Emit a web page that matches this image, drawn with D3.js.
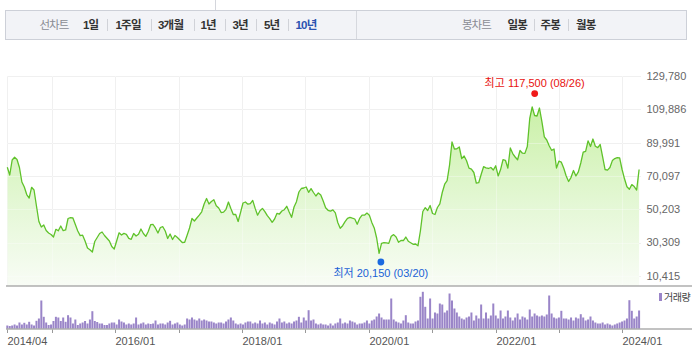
<!DOCTYPE html>
<html><head><meta charset="utf-8">
<script src="https://cdn.jsdelivr.net/npm/d3@7"></script>
<style>
html,body{margin:0;padding:0;background:#fff;}
svg{display:block;font-family:"Liberation Sans",Arial,"Noto Sans CJK KR",sans-serif;}
</style></head><body>
<svg id="chart" width="692" height="355"></svg>
<script>
// ---- data (biweekly closes, won) ----
const priceValues = [
75230,70630,79590,81210,79890,75110,66450,63460,58980,56890,
63290,61670,52110,42850,39570,40760,37480,35980,35090,33590,
38190,37300,40170,37360,37780,44650,45120,44950,41060,37180,
34430,34670,31210,27020,26010,24630,30910,33300,35690,36580,
34490,32820,31210,27920,26430,31210,36100,34790,35750,35210,
32760,32220,35690,34190,35210,38370,35690,33950,36880,40940,
41060,38850,35980,39270,39750,37180,32700,35390,32100,34490,
33300,31800,30310,30430,34670,38970,44650,43150,44950,46620,
48650,53310,56590,53310,54800,55880,52290,50920,48230,48410,
50140,54500,50620,47040,47040,42850,48350,53910,54500,53190,
53550,55460,50680,46620,49250,50680,48770,46320,44530,42380,
44350,47750,47330,49130,49900,51930,48530,45360,51520,54680,
60480,62570,62870,63460,60300,62510,60180,58090,59940,58690,
55100,51040,49550,49010,49780,47990,42260,38790,40350,42790,
44770,45360,44830,44350,41240,44710,46680,46620,47870,46560,
42320,39030,33000,23860,29830,30250,30070,29770,34010,35030,
33650,30430,31560,31500,33590,31090,30190,29230,29410,28340,
37180,48830,51100,49430,52410,47630,47040,51220,53430,60180,
65140,67290,76610,90350,86170,86290,87360,80490,81980,79180,
74760,74160,72130,65850,66030,70930,75590,74930,74520,75110,
73620,76130,70100,73860,79830,79420,74700,86760,83420,81390,
79770,85270,83660,83540,87660,104390,111260,106180,105880,110660,
102590,93450,91540,88080,85390,86170,74820,78880,78280,74640,
70040,66750,69260,73320,70040,72490,77800,84250,84790,91060,
87660,92140,87840,87000,88850,81390,73920,73560,75110,79240,
80430,80970,80910,73920,68360,63640,62150,64900,63760,61670,
73920];
// biweekly volume (thousand shares)
const volumeValues = [
300,250,300,400,300,600,400,570,400,670,
400,300,770,1000,2800,1170,600,350,400,750,
1170,1100,750,1100,670,1330,1100,500,900,350,
500,600,750,500,900,1730,750,650,500,500,
350,350,500,600,600,400,900,700,600,400,
500,400,500,1100,400,500,600,400,500,450,
500,800,400,500,500,400,600,770,400,500,
600,400,300,400,1000,900,1100,900,800,1000,
800,900,800,700,700,600,500,600,600,500,
700,900,1100,800,500,400,500,400,600,700,
700,500,600,500,800,500,600,400,600,500,
400,700,1000,600,700,500,600,500,700,800,
1170,600,1100,800,1830,800,900,500,400,500,
400,400,300,500,300,500,600,1000,500,600,
500,800,700,600,400,500,500,600,800,500,
800,900,1200,1500,1100,900,900,900,3000,900,
700,600,500,800,1330,600,500,500,700,800,
3170,3670,2170,1000,3000,1000,1600,1500,2500,2400,
1600,1800,3500,2800,2000,1600,1200,1000,900,1100,
1200,1600,800,1300,1000,2400,1000,1600,1000,1300,
2500,1300,1000,1800,1000,1200,1800,1100,800,1100,
1500,900,1200,1100,900,1900,1200,1500,1300,1200,
1300,1200,1400,3300,1500,1100,1000,1100,1770,1000,
1000,900,1100,800,1100,1000,1430,1100,800,900,
1200,800,600,500,500,600,400,500,400,300,
400,500,600,700,800,1000,2830,1770,1000,1200,
1800];
const startDate = new Date(2014, 3, 20);
const endDate = new Date(2024, 3, 18);
const stepDays = 14;
const yTickValues = [10415, 30309, 50203, 70097, 89991, 109886, 129780];
const xLabelDates = [new Date(2014,3,20), new Date(2016,0,1), new Date(2018,0,1), new Date(2020,0,1), new Date(2022,0,1), new Date(2024,0,1)];
const xLabelTexts = ["2014/04","2016/01","2018/01","2020/01","2022/01","2024/01"];
const gridYears = [2015,2016,2017,2018,2019,2020,2021,2022,2023,2024];
const highPoint = {date: new Date(2022,7,26), value: 117500, label: "최고 117,500 (08/26)"};
const lowPoint  = {date: new Date(2020,2,20), value: 20150,  label: "최저 20,150 (03/20)"};
const lineTabs = ["1일","1주일","3개월","1년","3년","5년","10년"];
const candleTabs = ["일봉","주봉","월봉"];

// ---- layout ----
const L = 7.3, R = 641;
const pTop = 76, pGridBottom = 275.8, pBottom = 285.5;
const vBase = 328.5, vTop = 288.5;

const svg = d3.select("#chart");
const dates = priceValues.map((_, i) => d3.timeDay.offset(startDate, i * stepDays));
const data = priceValues.map((v, i) => ({date: dates[i], value: v, volume: volumeValues[i]}));

const x = d3.scaleTime().domain([startDate, endDate]).range([L, R]);
const y = d3.scaleLinear().domain([10415, 129780]).range([pGridBottom, pTop]);
const yv = d3.scaleLinear().domain([0, 4000]).range([vBase, vTop]);

// ---- tab bar ----
svg.append("line").attr("x1",215.5).attr("x2",215.5).attr("y1",0).attr("y2",10).attr("stroke","#d4d6dc");
svg.append("rect").attr("x",5.5).attr("y",10.5).attr("width",681).attr("height",29)
  .attr("fill","#f2f3f7").attr("stroke","#cdd0d8");
svg.append("line").attr("x1",356.5).attr("x2",356.5).attr("y1",11).attr("y2",39).attr("stroke","#d6d8de");
const tabFont = '"Liberation Sans","Noto Sans CJK KR",sans-serif';
function tabText(t, xp, color, weight, ls){
  svg.append("text").attr("x",xp).attr("y",28.5).text(t)
    .attr("font-family",tabFont).attr("font-size",11.5).attr("fill",color)
    .attr("font-weight",weight).attr("letter-spacing",ls);
}
tabText("선차트", 39.5, "#8a8c94", "normal", -1);
const lineTabX = [83, 115.5, 158, 200.5, 232.5, 264, 295.5];
lineTabs.forEach((t,i)=>{
  const last = i === lineTabs.length-1;
  tabText(t, lineTabX[i], last ? "#2a52b0" : "#333", "bold", -0.8);
});
[107.5,151.5,194.5,225.5,256.5,288.5].forEach(sx=>{
  svg.append("line").attr("x1",sx).attr("x2",sx).attr("y1",19).attr("y2",31).attr("stroke","#d0d2d8");
});
tabText("봉차트", 462, "#8a8c94", "normal", -1);
const candleTabX = [507.5, 540.5, 576];
candleTabs.forEach((t,i)=> tabText(t, candleTabX[i], "#333", "bold", -0.8));
[534.5,568.5].forEach(sx=>{
  svg.append("line").attr("x1",sx).attr("x2",sx).attr("y1",19).attr("y2",31).attr("stroke","#d0d2d8");
});

// ---- price panel ----
const defs = svg.append("defs");
const grad = defs.append("linearGradient").attr("id","areaGrad")
  .attr("gradientUnits","userSpaceOnUse").attr("x1",0).attr("x2",0).attr("y1",100).attr("y2",pBottom);
grad.append("stop").attr("offset","0%").attr("stop-color","#c6efa0");
grad.append("stop").attr("offset","55%").attr("stop-color","#e2f7d2");
grad.append("stop").attr("offset","100%").attr("stop-color","#f8fcf5");

const g = svg.append("g");
// horizontal grid
g.selectAll(".hg").data(yTickValues).enter().append("line")
  .attr("x1",L).attr("x2",R).attr("y1",d=>Math.round(y(d))+0.5).attr("y2",d=>Math.round(y(d))+0.5)
  .attr("stroke","#e9e9e9");
// vertical grid
const gridDates = [startDate].concat(gridYears.map(yr=>new Date(yr,0,1)));
g.selectAll(".vg").data(gridDates).enter().append("line")
  .attr("x1",d=>Math.round(x(d))+0.5).attr("x2",d=>Math.round(x(d))+0.5)
  .attr("y1",pTop).attr("y2",pBottom).attr("stroke","#e9e9e9");

const area = d3.area().x(d=>x(d.date)).y0(pBottom).y1(d=>y(d.value));
const line = d3.line().x(d=>x(d.date)).y(d=>y(d.value));
g.append("path").datum(data).attr("d",area).attr("fill","url(#areaGrad)").attr("opacity",0.95);
// redraw grid faintly over area
g.selectAll(".hg2").data(yTickValues).enter().append("line")
  .attr("x1",L).attr("x2",R).attr("y1",d=>Math.round(y(d))+0.5).attr("y2",d=>Math.round(y(d))+0.5)
  .attr("stroke","#ffffff").attr("stroke-opacity",0.35);
g.selectAll(".vg2").data(gridDates).enter().append("line")
  .attr("x1",d=>Math.round(x(d))+0.5).attr("x2",d=>Math.round(x(d))+0.5)
  .attr("y1",pTop).attr("y2",pBottom).attr("stroke","#ffffff").attr("stroke-opacity",0.35);
g.append("path").datum(data).attr("d",line).attr("fill","none")
  .attr("stroke","#5fc22a").attr("stroke-width",1.3).attr("stroke-linejoin","round");

// price bottom axis line
svg.append("line").attr("x1",6).attr("x2",692).attr("y1",pBottom+0.5).attr("y2",pBottom+0.5)
  .attr("stroke","#858585");

// right axis labels
svg.selectAll(".yl").data(yTickValues).enter().append("text")
  .attr("x",646.5).attr("y",d=>y(d)).attr("dy","0.36em")
  .attr("font-size",11).attr("fill","#666").text(d=>d3.format(",")(d));

// high / low markers
svg.append("circle").attr("cx",x(highPoint.date)-2).attr("cy",y(highPoint.value)-3).attr("r",3.4).attr("fill","#f01a1a");
svg.append("text").attr("x",x(highPoint.date)-2).attr("y",y(highPoint.value)-9.5).attr("text-anchor","middle")
  .attr("font-size",11).attr("fill","#e8120f").text(highPoint.label);
svg.append("circle").attr("cx",x(lowPoint.date)-1.5).attr("cy",y(lowPoint.value)+2.5).attr("r",3.4).attr("fill","#1a6ae0");
svg.append("text").attr("x",x(lowPoint.date)-1.5).attr("y",y(lowPoint.value)+17.5).attr("text-anchor","middle")
  .attr("font-size",11).attr("fill","#1a62d6").text(lowPoint.label);

// ---- volume panel ----
svg.selectAll(".vb").data(data).enter().append("rect")
  .attr("x",d=>x(d.date)-1).attr("width",2)
  .attr("y",d=>yv(d.volume)).attr("height",d=>vBase-yv(d.volume))
  .attr("fill","#9a85c8");
svg.append("line").attr("x1",6).attr("x2",692).attr("y1",vBase+0.5).attr("y2",vBase+0.5).attr("stroke","#858585");
svg.selectAll(".vt").data(gridDates).enter().append("line")
  .attr("x1",d=>Math.round(x(d))+0.5).attr("x2",d=>Math.round(x(d))+0.5)
  .attr("y1",vBase+1).attr("y2",vBase+4.5).attr("stroke","#999");
svg.selectAll(".xl").data(xLabelDates).enter().append("text")
  .attr("x",d=>Math.round(x(d))+0.5).attr("y",345).attr("font-size",11).attr("fill","#555")
  .text((d,i)=>xLabelTexts[i]);

// legend
svg.append("rect").attr("x",659).attr("y",293).attr("width",3).attr("height",8).attr("fill","#9a85c8");
svg.append("text").attr("x",664).attr("y",300.5).attr("font-size",10).attr("letter-spacing",-0.5)
  .attr("fill","#444").text("거래량");
</script>
</body></html>
